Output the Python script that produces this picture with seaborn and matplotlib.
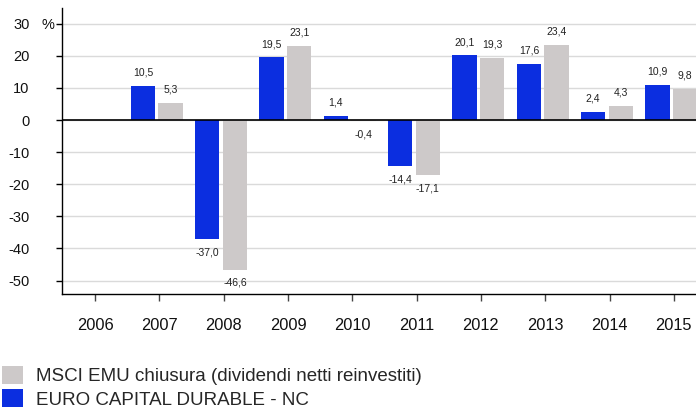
import numpy as np
import pandas as pd
import matplotlib
matplotlib.use("Agg")
import matplotlib.pyplot as plt
import seaborn as sns
from matplotlib.patches import Patch

# dati
anni = ["2006", "2007", "2008", "2009", "2010", "2011", "2012", "2013", "2014", "2015"]
fondo = [np.nan, 10.5, -37.0, 19.5, 1.4, -14.4, 20.1, 17.6, 2.4, 10.9]
indice = [np.nan, 5.3, -46.6, 23.1, -0.4, -17.1, 19.3, 23.4, 4.3, 9.8]
nome_fondo = "EURO CAPITAL DURABLE - NC"
nome_indice = "MSCI EMU chiusura (dividendi netti reinvestiti)"
yticks = [30, 20, 10, 0, -10, -20, -30, -40, -50]

blu = "#0B2EE0"
grigio = "#CDC9C9"

df = pd.DataFrame({
    "anno": anni * 2,
    "valore": fondo + indice,
    "serie": [nome_fondo] * len(anni) + [nome_indice] * len(anni),
})

sns.set_style("white")
plt.rcParams["font.family"] = ["Liberation Sans", "DejaVu Sans"]

fig = plt.figure(figsize=(6.96, 4.09), dpi=100)
ax = fig.add_axes([0.0891, 0.2804, 0.9253, 0.7009])

sns.barplot(data=df, x="anno", y="valore", hue="serie", order=anni,
            hue_order=[nome_fondo, nome_indice],
            palette=[blu, grigio], saturation=1, width=0.86, gap=0.12,
            linewidth=0, errorbar=None, legend=False, ax=ax)

# piccolo spostamento delle coppie di barre rispetto ai tick
for p in ax.patches:
    p.set_x(p.get_x() - 0.04)

def fmt(v):
    if np.isnan(v):
        return ""
    return f"{v:.1f}".replace(".", ",")

for c in ax.containers:
    ax.bar_label(c, labels=[fmt(p.get_height()) for p in c], padding=6,
                 fontsize=7.5, color="#222222")

ax.set_xlim(-0.513, 9.5)
ax.set_ylim(-54.3, 35)
ax.set_yticks(yticks)
ax.set_yticklabels([str(t) for t in yticks])
ax.set_xlabel("")
ax.set_ylabel("")

ax.grid(axis="y", color="#DADADA", linewidth=1.0)
ax.set_axisbelow(True)
ax.axhline(0, color="black", linewidth=1.2)

for s in ["top", "right"]:
    ax.spines[s].set_visible(False)
for s in ["left", "bottom"]:
    ax.spines[s].set_color("black")
    ax.spines[s].set_linewidth(1.0)

ax.tick_params(axis="y", left=True, length=4, width=1, color="black",
               pad=19.5, labelsize=10.5, labelcolor="#111111")
ax.tick_params(axis="x", bottom=True, length=5, width=1, color="#444444",
               pad=12, labelsize=11.8, labelcolor="#111111")

fig.text(41.5 / 696, 1 - 25 / 409, "%", fontsize=10.5, va="center", ha="left",
         color="#111111")

maniglie = [Patch(facecolor=grigio, edgecolor="none"),
            Patch(facecolor=blu, edgecolor="none")]
fig.legend(maniglie, [nome_indice, nome_fondo], loc="upper left",
           bbox_to_anchor=(2 / 696, 1 - 366 / 409), frameon=False, fontsize=13.5,
           handlelength=1.12, handleheight=1.12, handletextpad=0.7,
           labelspacing=0.2, borderpad=0, borderaxespad=0)

fig.savefig("out.png", dpi=100)
